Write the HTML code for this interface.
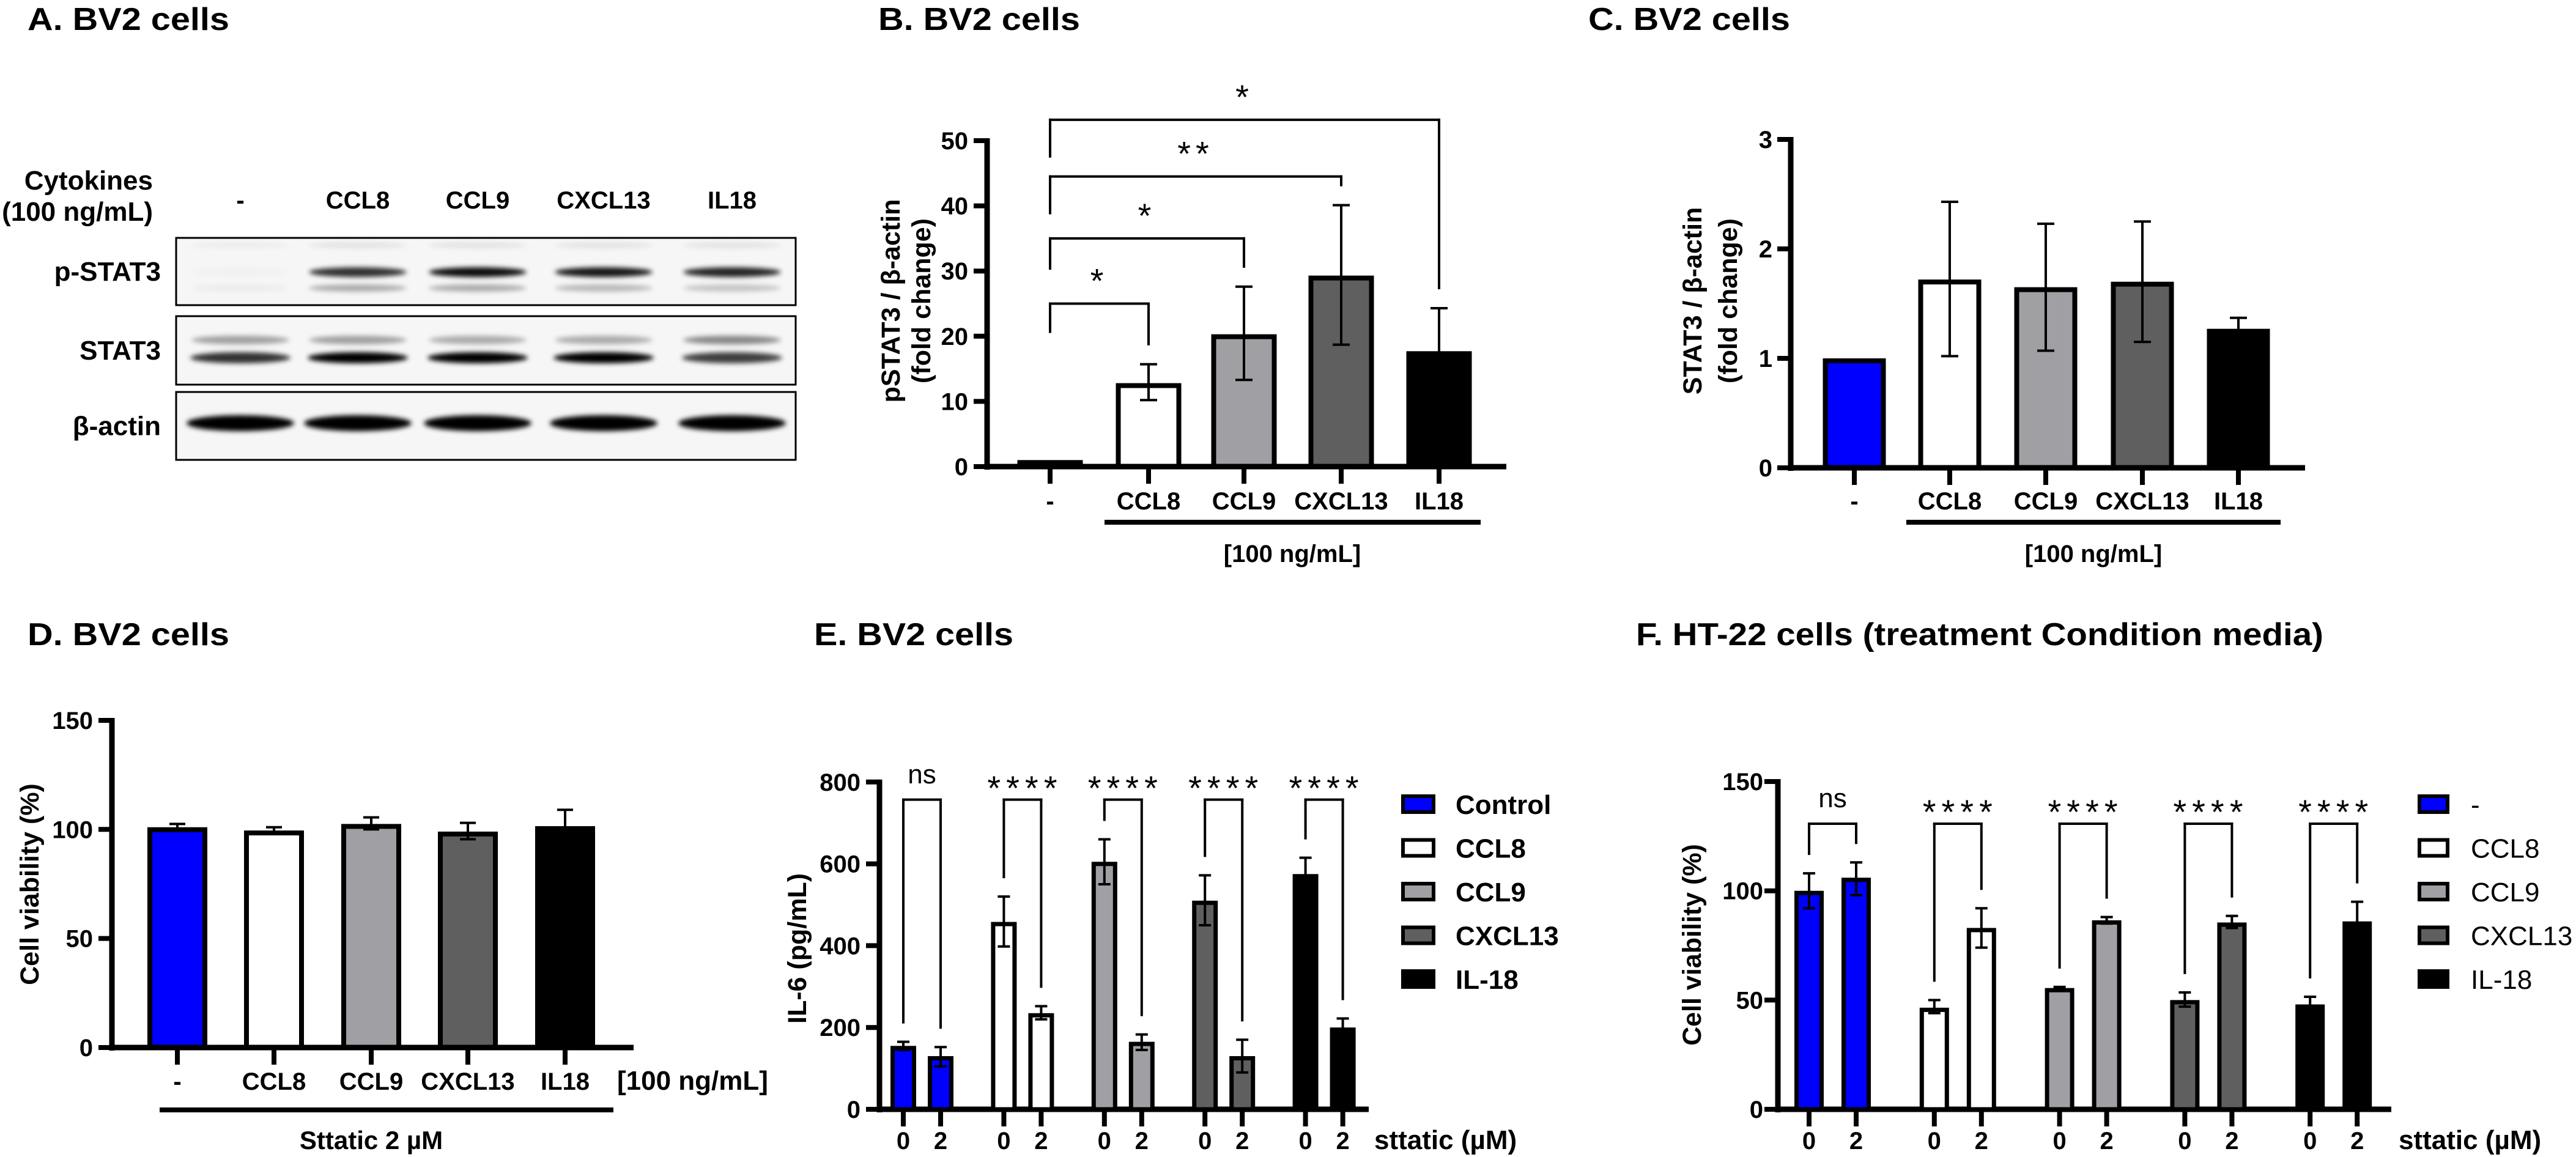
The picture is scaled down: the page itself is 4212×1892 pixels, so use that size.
<!DOCTYPE html>
<html><head><meta charset="utf-8"><style>
html,body{margin:0;padding:0;background:#fff;}
svg{display:block;font-family:"Liberation Sans",Arial,sans-serif;}
</style></head><body>
<svg id="fig" xmlns="http://www.w3.org/2000/svg" width="4212" height="1892" viewBox="0 0 4212 1892">
<defs><filter id="blur" x="-20%" y="-200%" width="140%" height="500%"><feGaussianBlur stdDeviation="4"/></filter></defs>
</svg>
<script>
// ---------- DATA ----------
const bCats=['-','CCL8','CCL9','CXCL13','IL18'];
const bMean=[1,12.8,20.3,29.3,17.7];
const bLow=[1,10.2,13.3,18.7,11.1];
const bHigh=[1,15.7,27.6,40.1,24.3];
const bTicks=[0,10,20,30,40,50];
const bSigLabels=['*','*','**','*'];
const bSigTarget=[1,2,3,4];
const bSigTop=[25,35,44.5,53.2];
const bSigLeftEnd=[20.5,30.2,38.7,47.4];

const cCats=['-','CCL8','CCL9','CXCL13','IL18'];
const cMean=[1,1.72,1.65,1.70,1.27];
const cLow=[1,1.02,1.07,1.15,1.17];
const cHigh=[1,2.43,2.23,2.25,1.37];
const cTicks=[0,1,2,3];

const dCats=['-','CCL8','CCL9','CXCL13','IL18'];
const dMean=[101,99.5,102.5,99,101.5];
const dLow=[99.5,98,100,95.5,94];
const dHigh=[102.5,101,105.5,103,109];
const dTicks=[0,50,100,150];

const eGroups=['Control','CCL8','CCL9','CXCL13','IL-18'];
const eDose=['0','2'];
const eMean0=[155,458,605,510,575];
const eLow0=[145,398,550,450,535];
const eHigh0=[165,520,660,572,615];
const eMean2=[130,235,165,130,200];
const eLow2=[105,220,145,90,178];
const eHigh2=[152,252,183,170,222];
const eSig=['ns','****','****','****','****'];
const eSigTop=757;
const eTicks=[0,200,400,600,800];

const fGroups=['-','CCL8','CCL9','CXCL13','IL-18'];
const fMean0=[100,46.5,55.5,50,48];
const fLow0=[92,44,55,47,45];
const fHigh0=[108,50,56,53.5,51.5];
const fMean2=[106,83,86.5,85.5,86];
const fLow2=[98,74,85,83,77];
const fHigh2=[113,92,88,88.5,95];
const fSig=['ns','****','****','****','****'];
const fSigTop=130.7;
const fTicks=[0,50,100,150];

// ---------- HELPERS ----------
const NS='http://www.w3.org/2000/svg';
const root=document.getElementById('fig');
const FILLS=['#0000ff','#ffffff','#a0a0a4','#5f5f5f','#000000'];
function mk(tag,attrs,name){
  const e=document.createElementNS(NS,tag);
  for(const k in attrs) e.setAttribute(k,attrs[k]);
  
  
  root.appendChild(e);
  return e;
}
function ln(x1,y1,x2,y2,w,name){return mk('line',{x1:x1,y1:y1,x2:x2,y2:y2,stroke:'#000','stroke-width':w},name);}
function tx(x,y,s,fs,anchor,weight,name,extra){
  const a={x:x,y:y,'font-size':fs,'text-anchor':anchor,'font-weight':weight,fill:'#000'};
  if(extra) for(const k in extra) a[k]=extra[k];
  const e=mk('text',a,name);
  e.textContent=s;
  return e;
}
function rtx(x,y,s,fs,name){
  const e=mk('text',{x:0,y:0,'font-size':fs,'text-anchor':'middle','font-weight':'bold',transform:'translate('+x+' '+y+') rotate(-90)'},name);
  e.textContent=s;
  return e;
}
function bar(cx,w,y0,yv,fill,sw,name){
  const top=Math.min(y0,yv);
  mk('rect',{x:cx-w/2+sw/2,y:top+sw/2,width:w-sw,height:Math.max(0,Math.abs(y0-yv)-sw/2),fill:fill,stroke:'#000','stroke-width':sw},name);
}
function err(cx,yl,yh,cap,name){
  ln(cx,yl,cx,yh,4,name);
  ln(cx-cap/2,yh,cx+cap/2,yh,4,name+'-cap-high');
  ln(cx-cap/2,yl,cx+cap/2,yl,4,name+'-cap-low');
}
function yAxis(ax,ysc,ticks,labelX,fs,name){
  ln(ax,ysc(ticks[0])+5,ax,ysc(ticks[ticks.length-1])-4,9,name+'-line');
  ticks.forEach(t=>{
    ln(ax-22,ysc(t),ax,ysc(t),8,name+'-tick');
    tx(labelX,ysc(t)+14,String(t),fs,'end','bold',name+'-label');
  });
}

// ---------- TITLES ----------
tx(45,49,'A.  BV2 cells',52,'start','bold','title-a',{textLength:330,lengthAdjust:'spacingAndGlyphs'});
tx(1436,49,'B.  BV2 cells',52,'start','bold','title-b',{textLength:330,lengthAdjust:'spacingAndGlyphs'});
tx(2597,49,'C.  BV2 cells',52,'start','bold','title-c',{textLength:330,lengthAdjust:'spacingAndGlyphs'});
tx(45,1055,'D.  BV2 cells',52,'start','bold','title-d',{textLength:330,lengthAdjust:'spacingAndGlyphs'});
tx(1331,1055,'E.  BV2 cells',52,'start','bold','title-e',{textLength:326,lengthAdjust:'spacingAndGlyphs'});
tx(2675,1055,'F.  HT-22 cells (treatment Condition media)',52,'start','bold','title-f',{textLength:1124,lengthAdjust:'spacingAndGlyphs'});

// ---------- PANEL A (western blot) ----------
const lanes=[393,585,781,987,1197];
const laneLabels=['-','CCL8','CCL9','CXCL13','IL18'];
tx(250,310,'Cytokines',44,'end','bold','cytokines-label');
tx(250,361,'(100 ng/mL)',44,'end','bold','concentration-label');
laneLabels.forEach((l,i)=>tx(lanes[i],341,l,40,'middle','bold','lane-label'));
const boxes=[[389,499,'p-STAT3'],[517,629,'STAT3'],[641,752,'β-actin']];
boxes.forEach(b=>{
  mk('rect',{x:288,y:b[0],width:1013,height:b[1]-b[0],fill:'#f6f6f6',stroke:'#000','stroke-width':3},'blot-box');
  tx(263,(b[0]+b[1])/2+15,b[2],44,'end','bold','blot-row-label');
});
const bandRows=[
  {y:445,ry:8,rx:80,a:[0.02,0.8,0.95,0.9,0.85]},
  {y:471,ry:6,rx:80,a:[0.04,0.3,0.3,0.25,0.2]},
  {y:401,ry:5,rx:80,a:[0.04,0.08,0.08,0.08,0.08]},
  {y:556,ry:7,rx:80,a:[0.35,0.35,0.3,0.3,0.45]},
  {y:585,ry:9,rx:82,a:[0.8,1,1,1,0.75]},
  {y:692,ry:13,rx:88,a:[1,1,1,1,1]}
];
bandRows.forEach(r=>r.a.forEach((a,i)=>{
  mk('ellipse',{cx:lanes[i],cy:r.y,rx:r.rx,ry:r.ry,fill:'#000','fill-opacity':a,filter:'url(#blur)'},'blot-band');
}));

// ---------- PANEL B ----------
(function(){
  const ax=1614,y0=763,k=10.66;
  const ys=v=>y0-v*k;
  const xs=[1717,1878,2034,2193,2353];
  const fills=['#000000','#ffffff','#a0a0a4','#5f5f5f','#000000'];
  bCats.forEach((c,i)=>{
    bar(xs[i],107,y0,ys(bMean[i]),fills[i],8,'bar-b-'+c);
    if(bHigh[i]>bMean[i]) err(xs[i],ys(bLow[i]),ys(bHigh[i]),28,'errorbar-b-'+c);
  });
  yAxis(ax,ys,bTicks,1583,40,'y-axis-b');
  ln(ax-4,y0,2463,y0,9,'x-axis-b');
  bCats.forEach((c,i)=>{
    ln(xs[i],y0,xs[i],y0+28,8,'x-tick-b');
    tx(xs[i],833,c,40,'middle','bold','x-label-b');
  });
  ln(1806,854,2421,854,8,'treatment-line-b');
  tx(2113,919,'[100 ng/mL]',40,'middle','bold','treatment-label-b');
  rtx(1471,492,'pSTAT3 / β-actin',43,'y-axis-title-b');
  rtx(1521,492,'(fold change)',43,'y-axis-title-b2');
  bSigLabels.forEach((s,j)=>{
    const xl=xs[0],xr=xs[bSigTarget[j]],yt=ys(bSigTop[j]);
    ln(xl,ys(bSigLeftEnd[j]),xl,yt-2,4,'bracket-b');
    ln(xl-2,yt,xr+2,yt,4,'bracket-b');
    ln(xr,yt-2,xr,ys(bHigh[bSigTarget[j]]+2.9),4,'bracket-b');
    tx((xl+xr)/2,yt-18,s,56,'middle','normal','significance-b',{'letter-spacing':8});
  });
})();

// ---------- PANEL C ----------
(function(){
  const ax=2928,y0=765,k=179;
  const ys=v=>y0-v*k;
  const xs=[3032,3188,3345,3503,3660];
  cCats.forEach((c,i)=>{
    bar(xs[i],103,y0,ys(cMean[i]),FILLS[i],8,'bar-c-'+c);
    if(cHigh[i]>cMean[i]) err(xs[i],ys(cLow[i]),ys(cHigh[i]),28,'errorbar-c-'+c);
  });
  yAxis(ax,ys,cTicks,2898,40,'y-axis-c');
  ln(ax-4,y0,3769,y0,9,'x-axis-c');
  cCats.forEach((c,i)=>{
    ln(xs[i],y0,xs[i],y0+28,8,'x-tick-c');
    tx(xs[i],833,c,40,'middle','bold','x-label-c');
  });
  ln(3117,854,3729,854,8,'treatment-line-c');
  tx(3423,919,'[100 ng/mL]',40,'middle','bold','treatment-label-c');
  rtx(2782,492,'STAT3 / β-actin',43,'y-axis-title-c');
  rtx(2840,492,'(fold change)',43,'y-axis-title-c2');
})();

// ---------- PANEL D ----------
(function(){
  const ax=183,y0=1713,k=3.567;
  const ys=v=>y0-v*k;
  const xs=[290,448,607,765,924];
  dCats.forEach((c,i)=>{
    bar(xs[i],98,y0,ys(dMean[i]),FILLS[i],8,'bar-d-'+c);
    err(xs[i],ys(dLow[i]),ys(dHigh[i]),26,'errorbar-d-'+c);
  });
  yAxis(ax,ys,dTicks,152,40,'y-axis-d');
  ln(ax-4,y0,1036,y0,9,'x-axis-d');
  dCats.forEach((c,i)=>{
    ln(xs[i],y0,xs[i],y0+28,8,'x-tick-d');
    tx(xs[i],1782,c,40,'middle','bold','x-label-d');
  });
  tx(1009,1782,'[100 ng/mL]',44,'start','bold','treatment-label-d');
  ln(261,1815,1003,1815,8,'sttatic-line-d');
  tx(607,1879,'Sttatic 2 µM',42,'middle','bold','sttatic-label-d');
  rtx(63,1446,'Cell viability (%)',43,'y-axis-title-d');
})();

// ---------- grouped panel helper ----------
function grouped(p){
  const ys=v=>p.y0-v*p.k;
  yAxis(p.ax,ys,p.ticks,p.labelX,40,'y-axis-'+p.id);
  ln(p.ax-4,p.y0,p.axEnd,p.y0,9,'x-axis-'+p.id);
  p.groups.forEach((g,i)=>{
    const gc=p.g0+i*p.step;
    const xa=gc-p.off, xb=gc+p.off;
    bar(xa,p.w,p.y0,ys(p.m0[i]),FILLS[i],7,'bar-'+p.id+'-'+g+'-0');
    err(xa,ys(p.l0[i]),ys(p.h0[i]),20,'errorbar-'+p.id+'-'+g+'-0');
    bar(xb,p.w,p.y0,ys(p.m2[i]),FILLS[i],7,'bar-'+p.id+'-'+g+'-2');
    err(xb,ys(p.l2[i]),ys(p.h2[i]),20,'errorbar-'+p.id+'-'+g+'-2');
    [xa,xb].forEach((x,j)=>{
      ln(x,p.y0,x,p.y0+28,8,'x-tick-'+p.id);
      tx(x,1879,p.dose[j],40,'middle','bold','dose-label-'+p.id);
    });
    const yt=ys(p.sigTop);
    ln(xa,ys(p.h0[i])-30,xa,yt-2,4,'bracket-'+p.id);
    ln(xa-2,yt,xb+2,yt,4,'bracket-'+p.id);
    ln(xb,yt-2,xb,ys(p.h2[i])-30,4,'bracket-'+p.id);
    if(p.sig[i]==='ns') tx(gc,p.starY+6,'ns',44,'middle','normal','significance-'+p.id);
    else tx(gc+4,p.starY+33,p.sig[i],56,'middle','normal','significance-'+p.id,{'letter-spacing':9});
  });
  tx(p.sttX,1879,'sttatic (µM)',44,'start','bold','sttatic-label-'+p.id);
  p.groups.forEach((g,i)=>{
    const yc=p.legY0+i*71.5;
    mk('rect',{x:p.legX+3,y:yc-13,width:p.legW-6,height:26,fill:FILLS[i],stroke:'#000','stroke-width':6},'legend-swatch-'+p.id);
    tx(p.legTX,yc+16,g,44,'start',p.legWeight,'legend-entry-'+p.id);
  });
}
grouped({id:'e',ax:1438,y0:1814,k:0.669,axEnd:2238,ticks:eTicks,labelX:1407,groups:eGroups,
  g0:1507.5,step:164.4,off:30.5,w:42,m0:eMean0,l0:eLow0,h0:eHigh0,m2:eMean2,l2:eLow2,h2:eHigh2,
  dose:eDose,sig:eSig,sigTop:eSigTop,starY:1275,sttX:2247,legX:2291,legW:56,legTX:2380,legY0:1315,legWeight:'bold'});
rtx(1318,1551,'IL-6 (pg/mL)',43,'y-axis-title-e');
grouped({id:'f',ax:2907,y0:1814,k:3.573,axEnd:3910,ticks:fTicks,labelX:2883,groups:fGroups,
  g0:2996.5,step:204.8,off:38.5,w:48,m0:fMean0,l0:fLow0,h0:fHigh0,m2:fMean2,l2:fLow2,h2:fHigh2,
  dose:eDose,sig:fSig,sigTop:fSigTop,starY:1314,sttX:3922,legX:3953,legW:52,legTX:4040,legY0:1315,legWeight:'normal'});
rtx(2781,1545,'Cell viability (%)',43,'y-axis-title-f');
</script>
</body></html>
